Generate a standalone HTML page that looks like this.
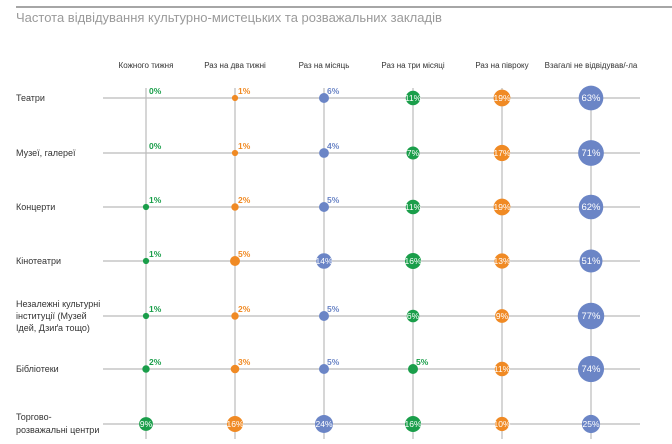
<!DOCTYPE html>
<html><head><meta charset="utf-8"><style>
body{margin:0;background:#fff;width:672px;height:439px;overflow:hidden;font-family:"Liberation Sans","DejaVu Sans",sans-serif}
</style></head><body>
<svg width="672" height="439" xmlns="http://www.w3.org/2000/svg" font-family="Liberation Sans, DejaVu Sans, sans-serif">
<line x1="16" y1="7" x2="672" y2="7" stroke="#888" stroke-width="1.5"/>
<text x="16" y="22" font-size="13" fill="#9a9a9a">Частота відвідування культурно-мистецьких та розважальних закладів</text>
<g font-size="8" fill="#333" text-anchor="middle">
<text x="146" y="68">Кожного тижня</text><text x="235" y="68">Раз на два тижні</text><text x="324" y="68">Раз на місяць</text>
<text x="413" y="68">Раз на три місяці</text><text x="502" y="68">Раз на півроку</text><text x="591" y="68">Взагалі не відвідував/-ла</text>
</g>
<g font-size="9" fill="#333">
<text x="16" y="101">Театри</text><text x="16" y="156">Музеї, галереї</text><text x="16" y="210">Концерти</text><text x="16" y="264">Кінотеатри</text>
<text x="16" y="307">Незалежні культурні</text><text x="16" y="319">інституції (Музей</text><text x="16" y="331">Ідей, Дзиґа тощо)</text>
<text x="16" y="372">Бібліотеки</text><text x="16" y="420">Торгово-</text><text x="16" y="433">розважальні центри</text>
</g>
<g id="g" stroke="#bbb" stroke-width="1.2"></g>
<g id="d"></g>
</svg>
<script>
var cols=[146,235,324,413,502,591],rows=[98,153,207,261,316,369,424];
var col=["#1a9e4a","#f08a24","#6b85c6","#1a9e4a","#f08a24","#6b85c6"];
var data=[[0,1,6,11,19,63],[0,1,4,7,17,71],[1,2,5,11,19,62],[1,5,14,16,13,51],[1,2,5,6,9,77],[2,3,5,5,11,74],[9,16,24,16,10,25]];
var ns="http://www.w3.org/2000/svg",g=document.getElementById('g'),d=document.getElementById('d');
function el(p,t,a,txt){var e=document.createElementNS(ns,t);for(var k in a)e.setAttribute(k,a[k]);if(txt)e.textContent=txt;p.appendChild(e);return e;}
rows.forEach(function(y){el(g,'line',{x1:103,y1:y,x2:640,y2:y});});
cols.forEach(function(x){el(g,'line',{x1:x,y1:88,x2:x,y2:439});});
data.forEach(function(r,i){r.forEach(function(v,j){var x=cols[j],y=rows[i],c=col[j];
 var inside=v>=7||(i==4&&j==3)||(i==3&&j==2);
 if(v>0){var rad=1.1*Math.sqrt(v)+3.6;if(!inside)rad=Math.min(2.5+0.6*v,5);el(d,'circle',{cx:x,cy:y,r:rad,fill:c});}
 if(inside)el(d,'text',{x:x,y:y+3,'font-size':v>=50?9.5:8.5,fill:'#fff','text-anchor':'middle'},v+'%');
 else el(d,'text',{x:x+3,y:y-4,'font-size':8.5,'font-weight':'bold',fill:c},v+'%');
});});
</script>
</body></html>
